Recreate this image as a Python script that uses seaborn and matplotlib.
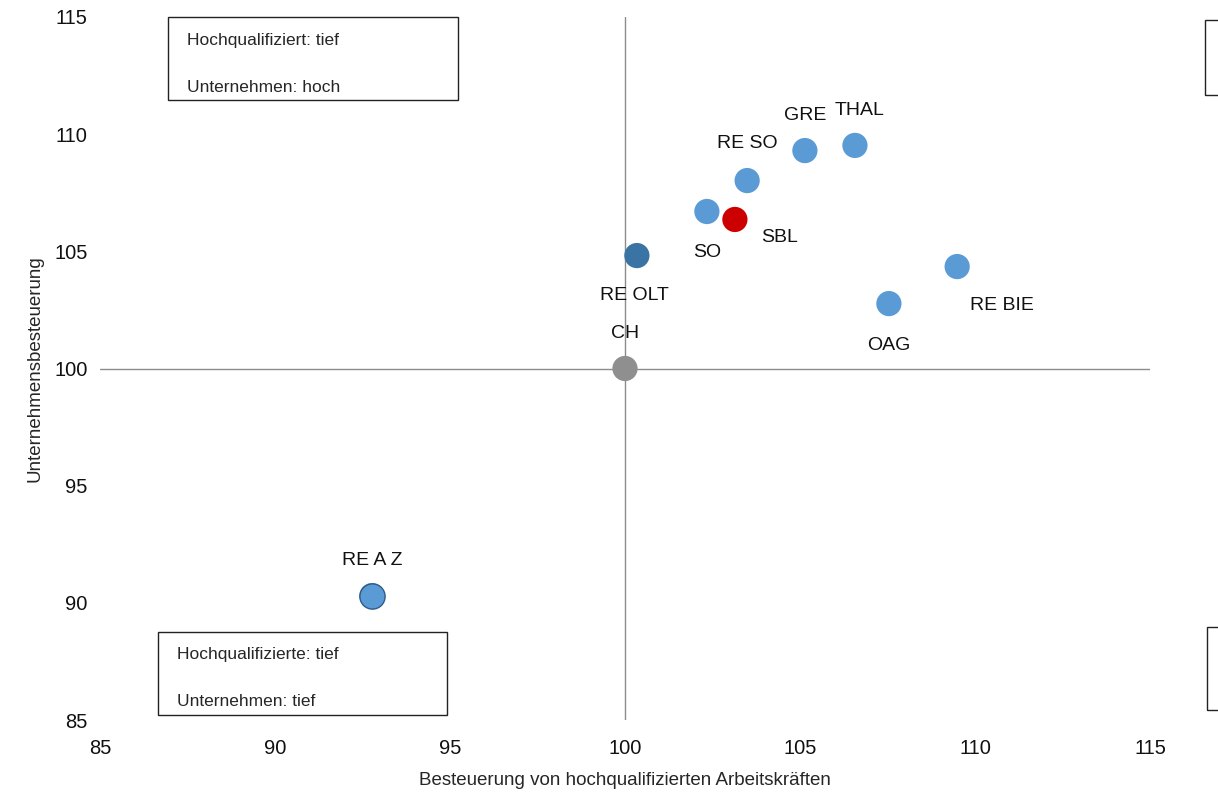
import matplotlib
matplotlib.use("Agg")
import matplotlib.pyplot as plt
import seaborn as sns
import pandas as pd
from matplotlib.patches import Rectangle

regionen = ["RE A Z", "CH", "RE OLT", "SO", "SBL", "RE SO", "GRE", "THAL", "OAG", "RE BIE"]
hochqualifiziert = [92.77, 100.0, 100.34, 102.34, 103.14, 103.49, 105.14, 106.57, 107.54, 109.49]
unternehmen = [90.31, 100.0, 104.82, 106.70, 106.36, 108.02, 109.30, 109.52, 102.77, 104.35]
gruppe = ["blau", "grau", "dunkel", "blau", "rot", "blau", "blau", "blau", "blau", "blau"]
# label offsets in pixels (dx, dy)
label_off = [(0, 35), (0, 35), (-2, -40), (0, -41), (45, -18), (0, 37), (0, 35), (5, 35), (0, -42), (45, -39)]

df = pd.DataFrame({"x": hochqualifiziert, "y": unternehmen, "g": gruppe, "name": regionen})
farben = {"blau": "#5B9BD5", "grau": "#8F8F8F", "dunkel": "#3A74A5", "rot": "#CC0000"}

sns.set_theme(style="white")
plt.rcParams["font.family"] = ["Liberation Sans", "DejaVu Sans"]

fig = plt.figure(figsize=(12.18, 8.01), dpi=100)
ax = fig.add_axes([100 / 1218, 81 / 801, 1050 / 1218, 703 / 801])

ax.axhline(100, color="#8c8c8c", lw=1, zorder=1)
ax.axvline(100, color="#8c8c8c", lw=1, zorder=1)

sns.scatterplot(data=df, x="x", y="y", hue="g", palette=farben, s=330,
                linewidth=0, legend=False, ax=ax, zorder=3)
# RE A Z has a dark outline
ax.scatter(df.x[:1], df.y[:1], s=330, facecolor="#5B9BD5", edgecolor="#2F5B86", lw=1, zorder=4)

for (xx, yy, n, (dx, dy)) in zip(df.x, df.y, df.name, label_off):
    ax.annotate(n, (xx, yy), xytext=(dx * 0.72, dy * 0.72), textcoords="offset points",
                ha="center", va="center", fontsize=14, color="#111111")

ax.set_xlim(85, 115)
ax.set_ylim(85, 115)
ax.set_xticks(range(85, 116, 5))
ax.set_yticks(range(85, 116, 5))
ax.tick_params(labelsize=14.5, length=0, colors="#111111")
ax.tick_params(axis="x", pad=14)
ax.tick_params(axis="y", pad=9)
for s in ax.spines.values():
    s.set_visible(False)
ax.set_xlabel("Besteuerung von hochqualifizierten Arbeitskräften", fontsize=13.5, labelpad=10)
ax.set_ylabel("Unternehmensbesteuerung", fontsize=13.5, labelpad=8)

def box(x0, y0, x1, y1, zeilen):
    W, H = 1218, 801
    fig.patches.append(Rectangle((x0 / W, 1 - y1 / H), (x1 - x0) / W, (y1 - y0) / H,
                                 transform=fig.transFigure, fill=False, ec="#222222", lw=1))
    for i, z in enumerate(zeilen):
        fig.text((x0 + 19) / W, 1 - (y0 + 23 + i * 47) / H, z, fontsize=12.5, va="center")

box(168, 17, 458, 100, ["Hochqualifiziert: tief", "Unternehmen: hoch"])
box(158, 632, 447, 715, ["Hochqualifizierte: tief", "Unternehmen: tief"])
box(1205, 20, 1400, 95, [])
box(1207, 627, 1400, 710, [])

fig.savefig("out.png", dpi=100)
